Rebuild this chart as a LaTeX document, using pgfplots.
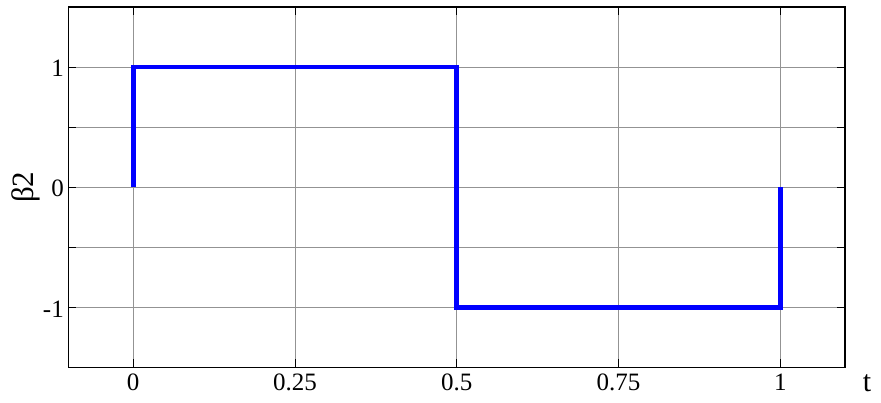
\documentclass[border=0pt]{standalone}
\usepackage{fontspec}
\setmainfont{Liberation Serif}
\usepackage{pgfplots}
\pgfplotsset{compat=1.18}
\begin{document}
\begin{tikzpicture}
\begin{axis}[name=ax, scale only axis, width=776.5pt, height=360.5pt,
  xmin=-0.1, xmax=1.1, ymin=-1.5, ymax=1.5,
  xtick={0,0.25,0.5,0.75,1}, xticklabels={0,0.25,0.5,0.75,1},
  ytick={-1,-0.5,0,0.5,1}, yticklabels={-1,,0,,1},
  grid=major, major grid style={draw=gray!85, line width=0.6pt},
  tick align=inside, major tick length=8pt,
  tick style={black, line width=0.8pt},
  axis line style={black, line width=1.2pt},
  /pgf/number format/assume math mode=true,
  ticklabel style={font=\fontsize{25}{28}\selectfont},
  xticklabel style={anchor=base, yshift=-23.5pt},
  yticklabel style={anchor=east, inner sep=0pt, xshift=-4.5pt, yshift=-1.5pt},
  ylabel={β2},
  ylabel style={font=\fontsize{31}{34}\selectfont, at={(axis description cs:0,0.5)}, anchor=center, xshift=0pt, yshift=43pt},
  xlabel={t},
  xlabel style={font=\fontsize{30}{34}\selectfont, at={(axis description cs:1,0)}, anchor=base, xshift=22pt, yshift=-24.5pt},
]
\addplot[blue, line width=4.8pt, line join=miter] coordinates {(0,0) (0,1) (0.5,1) (0.5,-1) (1,-1) (1,0)};
\end{axis}
\pgfresetboundingbox
\path[use as bounding box] ([xshift=-68.5pt,yshift=-35.5pt]ax.south west) rectangle ([xshift=36pt,yshift=7pt]ax.north east);
\end{tikzpicture}
\end{document}
